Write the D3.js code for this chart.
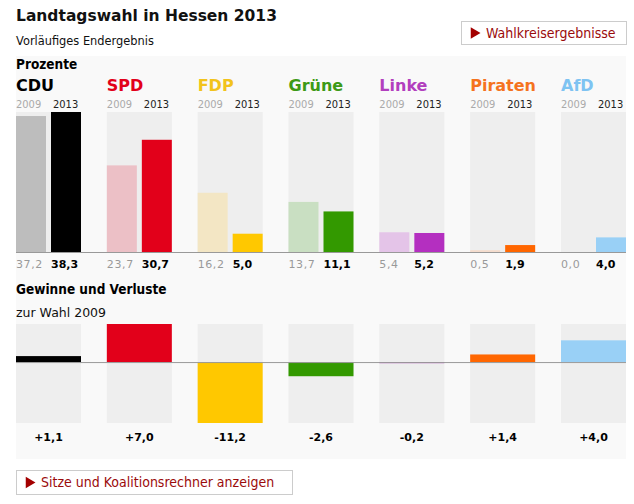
<!DOCTYPE html>
<html lang="de">
  <head>
    <meta charset="UTF-8" />
    <title>Landtagswahl in Hessen 2013</title>
    <script src="https://d3js.org/d3.v7.min.js"></script>
    <style>
      body {
        margin: 0;
        background: #ffffff;
      }
      .verdana {
        font-family: "DejaVu Sans", Verdana, sans-serif;
      }
      .tahoma {
        font-family: "DejaVu Sans Condensed", "DejaVu Sans", Tahoma, sans-serif;
      }
    </style>
  </head>
  <body>
    <div id="chart"></div>
    <script>
      // Ergebnisse (Prozent)
      const parties = ["CDU", "SPD", "FDP", "Grüne", "Linke", "Piraten", "AfD"];
      const years = ["2009", "2013"];
      const votes2009 = [37.2, 23.7, 16.2, 13.7, 5.4, 0.5, 0.0];
      const votes2013 = [38.3, 30.7, 5.0, 11.1, 5.2, 1.9, 4.0];
      const changes = [1.1, 7.0, -11.2, -2.6, -0.2, 1.4, 4.0];

      const nameColors = ["#000000", "#e2001a", "#f2c31c", "#3d9a16", "#b23fbe", "#f5731e", "#7ec3f2"];
      const colors2013 = ["#000000", "#e2001a", "#ffc800", "#339900", "#b42fc0", "#ff6600", "#99d0f6"];
      const colors2009 = ["#bdbdbd", "#ecc0c6", "#f3e6c4", "#c9dfc2", "#e4c4e8", "#f5dccd", "#d6ecfb"];

      const width = 634;
      const height = 504;

      const de = d3.formatLocale({
        decimal: ",",
        thousands: ".",
        grouping: [3],
        currency: ["", " €"],
        minus: "-"
      });
      const fmt = de.format(".1f");
      const fmtSigned = de.format("+.1f");

      const svg = d3
        .select("#chart")
        .append("svg")
        .attr("width", width)
        .attr("height", height);

      // scales
      const x = d3.scaleBand().domain(parties).range([16, 626]).paddingInner(0.2844);
      const xYear = d3.scaleBand().domain(years).range([0, x.bandwidth()]).paddingInner(1 / 7);

      const yVotes = d3
        .scaleLinear()
        .domain([0, d3.max(votes2009.concat(votes2013))])
        .range([252, 112]);

      const yChange = d3.scaleLinear().domain(d3.extent(changes)).range([423, 324]);

      // panel background
      svg
        .append("rect")
        .attr("x", 16)
        .attr("y", 56)
        .attr("width", 610)
        .attr("height", 403)
        .attr("fill", "#f9f9f9");

      // header
      svg
        .append("text")
        .attr("class", "verdana")
        .attr("x", 16)
        .attr("y", 21)
        .attr("font-size", 15.5)
        .attr("font-weight", "bold")
        .attr("fill", "#111")
        .text("Landtagswahl in Hessen 2013");

      svg
        .append("text")
        .attr("class", "verdana")
        .attr("x", 16)
        .attr("y", 45)
        .attr("font-size", 11.4)
        .attr("fill", "#111")
        .text("Vorläufiges Endergebnis");

      svg
        .append("text")
        .attr("class", "tahoma")
        .attr("x", 16)
        .attr("y", 69)
        .attr("font-size", 13.5)
        .attr("font-weight", "bold")
        .attr("fill", "#000")
        .text("Prozente");

      function button(bx, by, bw, bh, label) {
        const g = svg.append("g").attr("transform", `translate(${bx},${by})`);
        g.append("rect")
          .attr("x", 0.5)
          .attr("y", 0.5)
          .attr("width", bw)
          .attr("height", bh)
          .attr("fill", "#fff")
          .attr("stroke", "#cccccc");
        g.append("path")
          .attr("d", d3.symbol(d3.symbolTriangle, 55)())
          .attr("transform", `translate(${13},${bh / 2 + 0.5}) rotate(90)`)
          .attr("fill", "#a30000");
        g.append("text")
          .attr("class", "tahoma")
          .attr("x", 25)
          .attr("y", bh / 2 + 5)
          .attr("font-size", 14)
          .attr("fill", "#9b0b0b")
          .text(label);
      }

      button(461, 21, 165, 23, "Wahlkreisergebnisse");
      button(16, 470, 276, 24, "Sitze und Koalitionsrechner anzeigen");

      // party groups (top)
      const groups = svg
        .selectAll("g.party")
        .data(parties)
        .enter()
        .append("g")
        .attr("class", "party")
        .attr("transform", (d) => `translate(${x(d)},0)`);

      groups
        .append("text")
        .attr("class", "verdana")
        .attr("x", 0)
        .attr("y", 91)
        .attr("font-size", 16)
        .attr("font-weight", "bold")
        .attr("fill", (d, i) => nameColors[i])
        .text((d) => d);

      years.forEach((yr) => {
        groups
          .append("text")
          .attr("class", "tahoma")
          .attr("x", xYear(yr) + (yr === "2013" ? 2 : 0))
          .attr("y", 108)
          .attr("font-size", 11)
          .attr("fill", yr === "2009" ? "#aaaaaa" : "#222")
          .text(yr);
      });

      // grey tracks
      groups
        .append("rect")
        .attr("x", 0)
        .attr("y", yVotes.range()[1])
        .attr("width", x.bandwidth())
        .attr("height", yVotes.range()[0] - yVotes.range()[1])
        .attr("fill", "#eeeeee");

      groups
        .append("rect")
        .attr("x", xYear("2009"))
        .attr("y", (d, i) => yVotes(votes2009[i]))
        .attr("width", xYear.bandwidth())
        .attr("height", (d, i) => yVotes(0) - yVotes(votes2009[i]))
        .attr("fill", (d, i) => colors2009[i]);

      groups
        .append("rect")
        .attr("x", xYear("2013"))
        .attr("y", (d, i) => yVotes(votes2013[i]))
        .attr("width", xYear.bandwidth())
        .attr("height", (d, i) => yVotes(0) - yVotes(votes2013[i]))
        .attr("fill", (d, i) => colors2013[i]);

      groups
        .append("text")
        .attr("class", "verdana")
        .attr("x", xYear("2009"))
        .attr("y", 268)
        .attr("font-size", 11)
        .attr("letter-spacing", 0.6)
        .attr("fill", "#999999")
        .text((d, i) => fmt(votes2009[i]));

      groups
        .append("text")
        .attr("class", "verdana")
        .attr("x", xYear("2013"))
        .attr("y", 268)
        .attr("font-size", 11)
        .attr("font-weight", "bold")
        .attr("fill", "#000")
        .text((d, i) => fmt(votes2013[i]));

      svg
        .append("line")
        .attr("x1", 16)
        .attr("x2", 626)
        .attr("y1", yVotes(0) + 0.5)
        .attr("y2", yVotes(0) + 0.5)
        .attr("stroke", "#999999");

      // Gewinne und Verluste
      svg
        .append("text")
        .attr("class", "tahoma")
        .attr("x", 16)
        .attr("y", 294)
        .attr("font-size", 13.5)
        .attr("font-weight", "bold")
        .attr("fill", "#000")
        .text("Gewinne und Verluste");

      svg
        .append("text")
        .attr("class", "verdana")
        .attr("x", 16)
        .attr("y", 317)
        .attr("font-size", 12.5)
        .attr("fill", "#111")
        .text("zur Wahl 2009");

      const gains = svg
        .selectAll("g.gain")
        .data(parties)
        .enter()
        .append("g")
        .attr("class", "gain")
        .attr("transform", (d) => `translate(${x(d)},0)`);

      gains
        .append("rect")
        .attr("x", 0)
        .attr("y", yChange.range()[1])
        .attr("width", x.bandwidth())
        .attr("height", yChange.range()[0] - yChange.range()[1])
        .attr("fill", "#eeeeee");

      gains
        .append("rect")
        .attr("x", 0)
        .attr("y", (d, i) => Math.min(yChange(0), yChange(changes[i])))
        .attr("width", x.bandwidth())
        .attr("height", (d, i) => Math.abs(yChange(changes[i]) - yChange(0)))
        .attr("fill", (d, i) => colors2013[i]);

      gains
        .append("text")
        .attr("class", "verdana")
        .attr("x", x.bandwidth() / 2)
        .attr("y", 441)
        .attr("text-anchor", "middle")
        .attr("font-size", 11)
        .attr("font-weight", "bold")
        .attr("fill", "#000")
        .text((d, i) => fmtSigned(changes[i]));

      svg
        .append("line")
        .attr("x1", 16)
        .attr("x2", 626)
        .attr("y1", yChange(0) + 0.5)
        .attr("y2", yChange(0) + 0.5)
        .attr("stroke", "#999999");
    </script>
  </body>
</html>
